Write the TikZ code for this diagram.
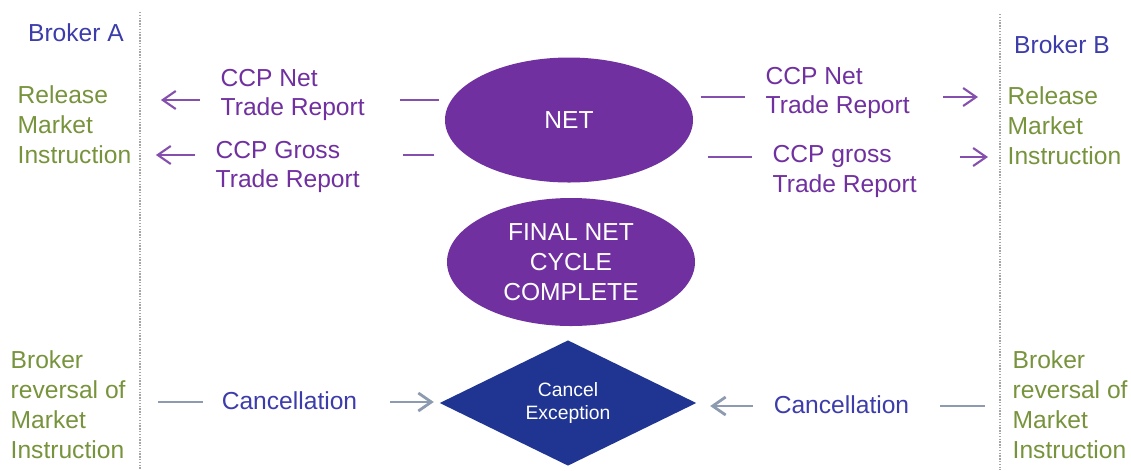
\documentclass[tikz,border=0pt]{standalone}
\usepackage{fontspec}
\setmainfont{Liberation Sans}
\usetikzlibrary{arrows.meta, shapes.geometric, positioning}
\definecolor{ccppurple}{HTML}{7030A0}
\definecolor{brokerblue}{HTML}{3C3CAA}
\definecolor{instrgreen}{HTML}{77933C}
\definecolor{cancelblue}{HTML}{1F3591}
\definecolor{cancelgrey}{HTML}{8C9BB0}

\begin{document}
\begin{tikzpicture}[every node/.style = {font=\fontsize{7}{8.5}\selectfont, inner sep=0pt},
		txt/.style = {anchor=west, align=left},
		instr/.style = {txt, text=instrgreen},
		rep/.style = {txt, text=ccppurple},
		pline/.style = {draw=ccppurple!85, line width=0.6pt},
		parr/.style = {pline, -{Straight Barb[length=1.3mm, width=1.8mm]}},
		cline/.style = {draw=cancelgrey, line width=0.8pt},
		carr/.style = {cline, -{Straight Barb[length=1.3mm, width=1.8mm]}},
		blob/.style = {ellipse, fill=ccppurple, text=white, align=center, minimum width=2.48cm},
		sep/.style = {draw=black!35, line width=0.6pt, dash pattern=on 0.4pt off 0.4pt}]
	\useasboundingbox (0,0) rectangle (11.31,-4.70);

	\draw[sep] (1.40,-0.12) -- (1.40,-4.70);
	\draw[sep] (10.00,-0.14) -- (10.00,-4.70);

	\node[text=brokerblue] (brokerA) at (0.76,-0.33) {Broker A};
	\node[text=brokerblue] (brokerB) at (10.62,-0.45) {Broker B};

	\node[instr] (relA) at (0.17,-1.25) {Release\\Market\\Instruction};
	\node[instr] (relB) at (10.07,-1.26) {Release\\Market\\Instruction};
	\node[instr] (revA) at (0.10,-4.05) {Broker\\reversal of\\Market\\Instruction};
	\node[instr] (revB) at (10.12,-4.05) {Broker\\reversal of\\Market\\Instruction};

	\node[rep] (netRepA) at (2.20,-0.95) {CCP Net\\Trade Report};
	\node[rep] (grossRepA) at (2.15,-1.67) {CCP Gross\\Trade Report};
	\node[rep] (netRepB) at (7.65,-0.93) {CCP Net\\Trade Report};
	\node[rep] (grossRepB) at (7.72,-1.715) {CCP gross\\Trade Report};

	\node[blob, minimum height=1.25cm] (net) at (5.69,-1.20) {NET};
	\node[blob, minimum height=1.28cm] (final) at (5.71,-2.62) {FINAL NET\\CYCLE\\COMPLETE};
	\node[diamond, fill=cancelblue, text=white, align=center, minimum width=2.57cm, minimum height=1.20cm,
		font=\fontsize{5.5}{6.5}\selectfont] (cancel) at (5.68,-4.03) {Cancel\\Exception};

	\node[text=brokerblue] (cancA) at (2.895,-4.01) {Cancellation};
	\node[text=brokerblue] (cancB) at (8.415,-4.05) {Cancellation};

	\coordinate (lnA) at (4.00,-1.00);
	\coordinate (anA) at (2.00,-1.00);
	\coordinate (lgA) at (4.03,-1.55);
	\coordinate (agA) at (1.95,-1.55);
	\coordinate (lnB) at (7.45,-0.97);
	\coordinate (anB) at (9.43,-0.97);
	\coordinate (lgB) at (7.52,-1.57);
	\coordinate (agB) at (9.60,-1.57);
	\coordinate (lcA) at (2.03,-4.02);
	\coordinate (acA) at (3.90,-4.02);
	\coordinate (acB) at (7.53,-4.06);
	\coordinate (lcB) at (9.40,-4.06);

	\draw[pline, shorten <=0.05cm] (net.west |- lnA) -- (lnA);
	\draw[parr, shorten >=0.29cm] (anA) -- (relA.east |- anA);
	\draw[pline, shorten <=0.10cm] (net.west |- lgA) -- (lgA);
	\draw[parr, shorten >=0.24cm] (agA) -- (relA.east |- agA);
	\draw[pline, shorten <=0.07cm] (net.east |- lnB) -- (lnB);
	\draw[parr, shorten >=0.29cm] (anB) -- (relB.west |- anB);
	\draw[pline, shorten <=0.14cm] (net.east |- lgB) -- (lgB);
	\draw[parr, shorten >=0.19cm] (agB) -- (relB.west |- agB);

	\draw[cline, shorten <=0.32cm] (revA.east |- lcA) -- (lcA);
	\draw[carr, shorten >=0.05cm] (acA) -- (cancel.west |- acA);
	\draw[carr, shorten >=0.13cm] (acB) -- (cancel.east |- acB);
	\draw[cline, shorten <=0.27cm] (revB.west |- lcB) -- (lcB);
\end{tikzpicture}
\end{document}
